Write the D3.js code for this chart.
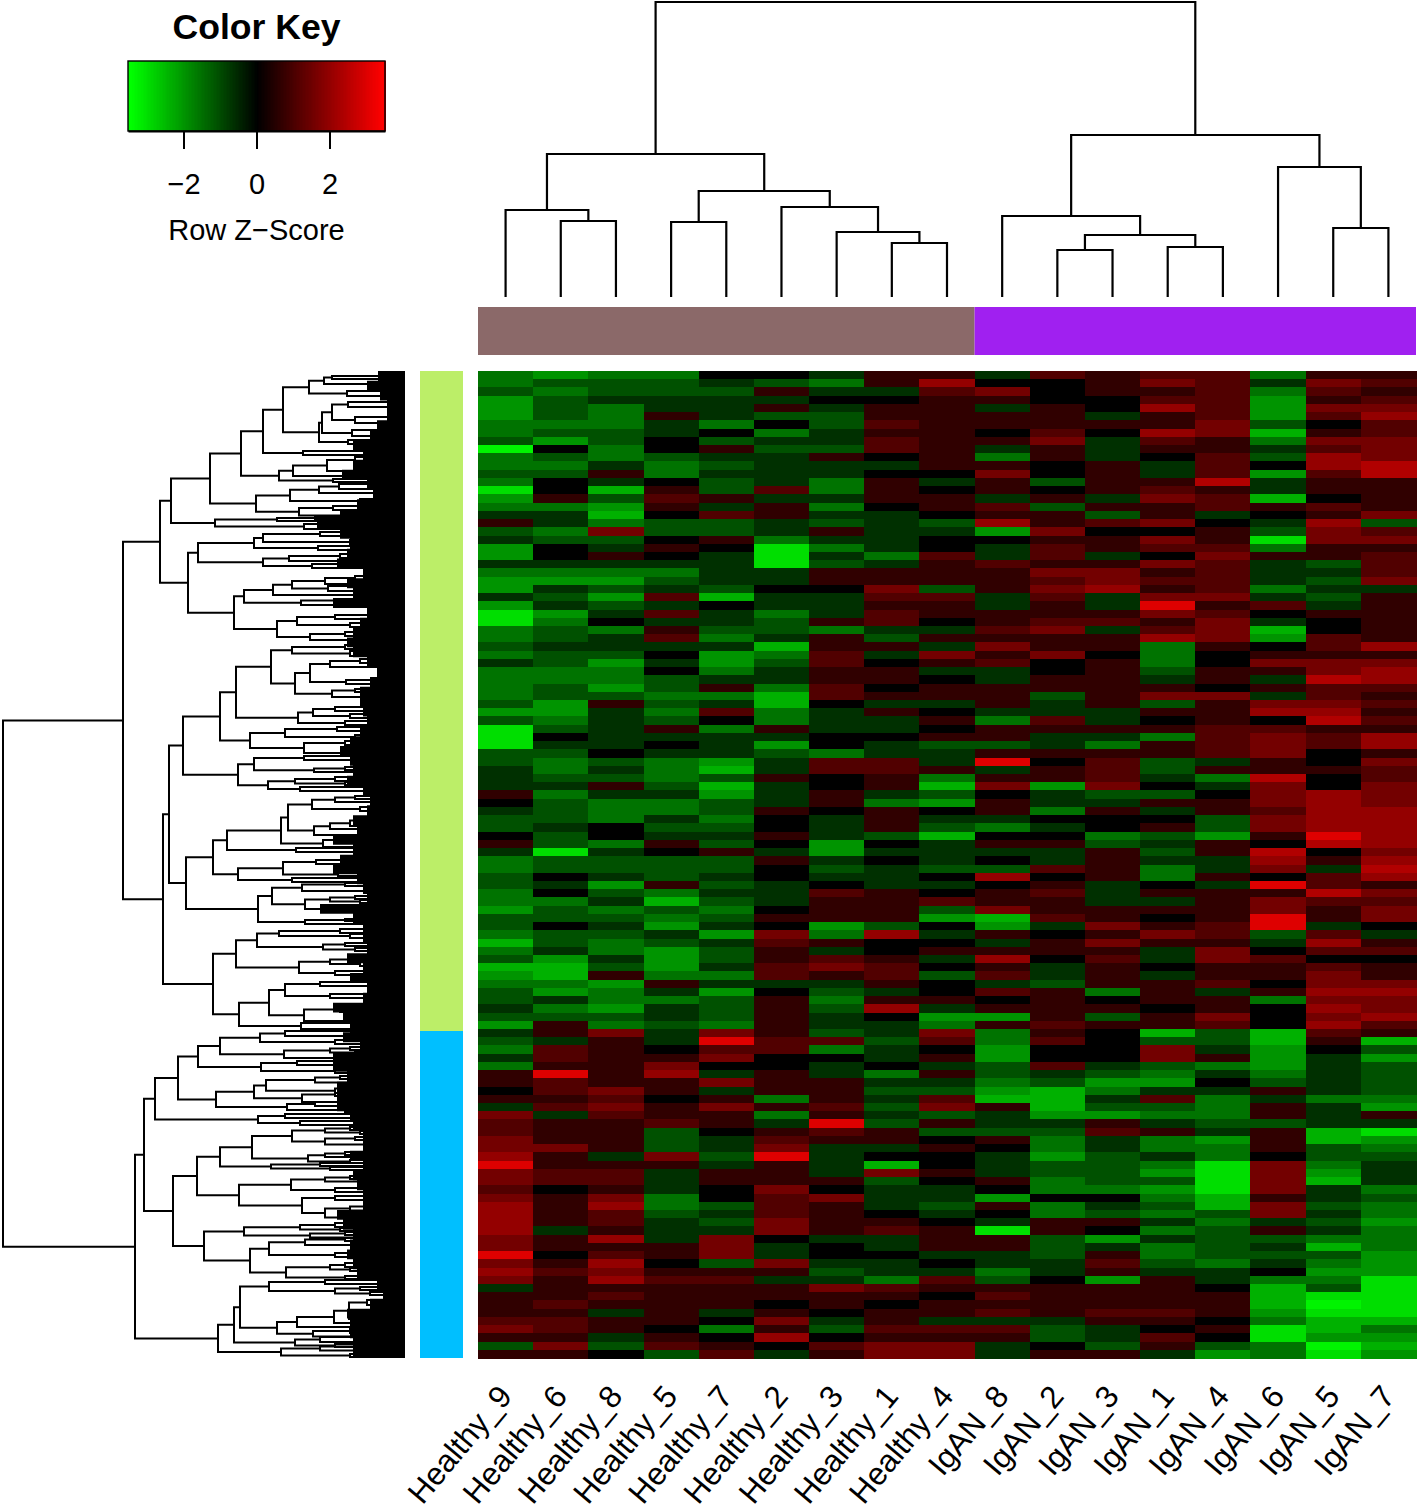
<!DOCTYPE html>
<html><head><meta charset="utf-8">
<script src="https://cdn.jsdelivr.net/npm/d3@7"></script>
<style>html,body{margin:0;padding:0;background:#fff}svg{display:block}text{font-family:"Liberation Sans",Arial,sans-serif;fill:#000}</style>
</head><body><svg id="c" width="1418" height="1510"></svg>
<script>
const samples = ["Healthy_9","Healthy_6","Healthy_8","Healthy_5","Healthy_7","Healthy_2","Healthy_3","Healthy_1","Healthy_4","IgAN_8","IgAN_2","IgAN_3","IgAN_1","IgAN_4","IgAN_6","IgAN_5","IgAN_7"];
const sampleGroups = [9, 8];                 // Healthy, IgAN
const rowGroups = [660, 327];                // rows in each cluster
const keyTicks = [-2, 0, 2];

// z-score read for each shade class used in the columns below (class 0..7, sign = green/red side)
const shadeZ = [0, 0.65, 1.1, 1.55, 2.0, 2.4, 3.0, 3.3];

// Shade classes, top to bottom
const healthy9 = [-3,-3,-2,-4,-4,-4,-3,-3,-2,-7,-3,-3,-2,-3,-6,-4,-3,-1,1,-2,-1,-4,-4,-1,-3,-4,-4,-1,-4,-6,-6,-3,-3,-2,-3,-1,-3,-3,-3,-3,
 -2,-4,-2,-6,-6,-6,-2,-2,-1,-1,-1,1,0,-1,-2,-2,0,1,-1,-3,-3,-2,-2,-3,-3,-4,-2,-2,-3,-5,-3,-2,-5,-4,-3,-2,-2,-1,-2,-4,
 -1,-2,-3,-1,-3,1,1,0,1,-1,3,2,2,3,3,4,6,3,3,2,3,4,4,4,4,3,3,6,3,4,3,-1,1,1,1,2,3,1,-2,1];
const healthy6 = [-4,-2,-3,-2,-2,-2,-3,-2,-4,0,-2,-3,-2,0,0,1,-3,-1,-1,-3,-2,0,0,-1,-3,-4,-1,-2,-1,-4,-3,-2,-2,-1,-2,-2,-3,-3,-2,-2,
 -4,-4,-3,-2,0,-1,-2,-3,-3,-2,-1,-3,-2,-2,-2,-1,-2,-2,-6,-2,-2,0,-1,0,-3,-2,-2,0,-2,-2,-1,-4,-5,-5,-3,-4,-1,-3,-2,1,
 1,-1,2,2,1,6,2,2,1,2,-1,1,1,1,3,1,1,2,2,0,1,1,1,1,-1,1,1,0,1,2,1,1,1,2,1,2,2,1,3,1];
const healthy8 = [-3,-2,-2,-1,-3,-3,-3,-2,-2,-3,-3,-1,1,-1,-5,-2,-4,-5,-3,3,-2,-1,1,-1,-3,-4,-2,-4,-2,-1,0,-3,-1,-1,-2,-4,-3,-3,-4,-2,
 1,-1,-1,-1,-1,-1,0,-2,-1,-2,1,-1,-3,-3,-3,0,0,-3,-1,-2,-2,-1,-4,-2,-1,-3,-2,-1,-2,-3,-3,-1,-2,1,-4,-3,-3,-4,-2,-3,
 3,1,1,1,1,1,1,3,2,3,2,1,1,1,1,-1,1,2,2,1,3,4,2,2,1,4,1,2,4,3,4,1,2,1,-1,1,1,-1,-2,0];
const healthy5 = [-3,-2,-2,-1,-1,1,-1,-1,0,0,-2,-3,-3,0,1,2,1,0,-2,-2,0,1,0,-1,-3,-2,-1,2,-1,2,-1,1,2,-1,0,-1,0,-2,-2,-3,
 -2,-3,-2,1,-1,0,-1,-3,-3,-3,-2,-1,-3,-3,-1,-2,-1,1,0,-2,-2,-2,1,-3,-5,-2,-3,-4,-1,-2,-4,-4,-4,-3,1,-1,-3,-1,-1,-2,
 -1,-1,0,1,3,4,1,1,0,1,1,2,-2,-2,-2,3,1,-1,-1,-1,-3,-3,-2,-1,-1,-1,1,1,0,1,2,1,1,1,1,1,0,1,2,-2];
const healthy7 = [0,-1,-2,-1,-1,-1,-3,0,-2,1,-1,-2,-1,-2,-2,1,-1,2,-2,-2,1,0,-1,-1,-1,-1,-2,-5,0,-1,-1,-2,-3,-1,-4,-4,-3,-1,1,-3,
 -1,2,0,-3,-1,-1,-1,-4,-5,-2,-5,-4,-2,-2,-3,-2,-1,-2,1,-2,-2,-1,-2,-1,-2,-3,-2,-1,-4,-1,-2,-2,-1,-3,-1,-4,-2,-2,-2,-3,
 3,6,2,3,0,-1,3,-1,1,3,1,1,0,-1,-1,-2,-1,1,1,0,0,-2,-1,-2,-1,3,3,3,-2,1,2,1,1,1,-1,0,-3,0,1,2];
const healthy2 = [0,-2,1,-1,1,-2,0,-3,-1,-2,-1,-1,-1,-1,2,-1,1,1,-1,-1,-3,-6,-6,-6,-1,-1,0,-1,-1,-3,-2,-2,-1,-5,-3,-2,-1,-1,-3,-5,
 -5,-3,-3,1,-1,-4,-2,-1,-1,1,-1,-1,-1,1,0,0,1,0,-1,1,0,0,-1,-1,-1,0,1,0,3,2,1,1,2,2,-1,0,1,1,1,1,
 1,2,2,0,0,1,1,1,-3,1,-3,-1,1,2,3,6,1,1,1,3,2,2,2,3,3,0,-1,-1,3,1,-1,1,1,0,1,3,1,4,0,-1];
const healthy3 = [-1,-3,-1,0,-1,-2,-2,-1,-1,-2,1,-1,-1,-3,-3,-1,-3,-1,-2,1,-1,-3,-1,-2,1,1,0,-1,-1,-1,1,-3,1,1,2,2,1,1,2,2,
 0,-1,-1,-1,0,0,-3,2,2,0,0,1,1,0,-1,-1,-1,-4,-4,-1,-2,-1,0,2,1,1,1,-4,-3,1,-1,2,3,1,-1,-2,-3,-2,-1,-1,
 -2,2,-3,0,-1,-1,1,1,1,2,1,6,2,1,-1,-1,-1,-1,1,0,3,1,1,1,1,-1,0,0,-1,-2,-1,3,1,1,0,-1,-2,0,2,1];
const healthy1 = [1,1,-1,0,1,1,2,1,2,2,0,-1,0,1,1,1,0,-1,-1,-1,-1,-1,-3,-1,1,1,3,2,1,2,2,-1,-2,1,-1,0,1,1,0,1,
 -1,1,-1,-1,0,-1,-1,2,2,1,1,-1,-3,1,1,1,-2,0,-1,0,-1,-1,-1,1,1,1,1,-2,4,0,0,1,2,2,1,-1,1,4,0,-1,
 -1,-2,-1,-1,0,-3,-1,-2,-1,-2,-1,-2,1,1,-1,0,-5,3,-2,-1,-1,-1,0,1,2,-1,-1,0,-1,-1,-3,2,1,0,1,1,2,1,3,3];
const healthy4 = [1,4,2,1,1,1,1,1,1,1,1,1,0,-1,0,1,1,0,-2,-1,0,0,2,1,1,1,-2,2,1,1,0,-1,1,-1,3,1,-1,0,1,1,
 -1,0,1,0,1,-2,-1,-1,1,-3,-5,-2,-4,0,-1,-2,-5,-1,-1,-1,-2,0,-1,0,2,-2,-4,0,-1,0,1,-1,0,-2,0,0,1,-1,-4,-3,
 3,2,0,1,-1,1,-1,-2,2,3,-2,1,-2,0,1,0,0,1,0,-1,-1,-2,-1,0,1,1,1,-1,0,-1,2,1,0,1,1,-1,2,1,3,3];
const igan8 = [-1,0,3,1,-1,1,1,0,1,-1,-3,1,3,1,1,-1,2,1,4,-4,0,-1,-1,2,1,1,1,-1,-1,1,1,2,1,3,1,2,-1,-1,1,1,
 1,-1,-3,1,1,-2,1,6,-1,1,3,0,1,1,-1,-3,0,1,-1,0,-2,4,0,1,1,3,-5,-4,1,-1,1,4,1,2,-1,2,0,1,-4,1,
 -3,-3,-4,-4,-2,-2,-3,-4,-5,1,-1,-1,-2,1,0,-1,-1,-1,1,0,-4,1,0,-1,-6,1,1,-1,-1,-3,-2,1,2,1,2,-1,2,1,-1,-1];
const igan2 = [2,0,0,0,1,1,1,2,3,1,1,0,0,-2,0,1,-2,1,1,3,1,2,2,1,3,2,3,2,1,1,2,3,1,1,3,0,0,1,1,-2,
 -1,-1,2,1,-1,-1,1,0,1,1,-4,-1,-1,-3,0,-1,0,1,-1,-1,2,0,1,2,1,1,2,-1,0,1,1,0,-1,-1,-2,1,1,1,1,2,
 1,2,0,0,2,-1,-2,-5,-5,-5,-4,-1,-2,-3,-3,-4,-2,-2,-3,-3,0,-3,-3,1,1,-2,-2,-2,-1,-1,0,1,1,1,1,-1,-2,-2,0,1];
const igan3 = [1,1,1,0,0,-1,1,0,-1,-1,-1,1,1,1,1,-1,1,-2,2,0,1,1,-1,1,3,3,4,-1,-1,1,2,-1,1,1,0,1,1,1,1,1,
 1,-1,-1,1,-1,-3,1,2,2,2,3,-2,-1,1,0,0,-3,-2,1,1,1,1,-1,-1,-1,1,1,3,1,3,1,2,1,1,1,-3,0,1,-2,1,
 0,0,0,0,-1,-2,-4,-3,-1,-2,-4,1,2,-1,-1,-2,-2,-2,-2,-3,0,-1,-2,1,0,-4,-1,1,2,1,-4,1,1,1,2,1,-1,-1,-2,1];
const igan1 = [2,3,1,2,4,1,1,4,2,1,0,-1,-1,1,2,3,1,1,3,0,3,2,0,3,1,2,1,3,6,3,1,2,4,-3,-3,-3,-2,-1,1,3,
 -2,1,0,1,-3,1,1,-2,-2,-1,0,-2,1,-1,0,1,-2,-1,-2,-1,-3,-3,0,1,-1,1,0,1,3,1,-1,-1,0,-1,1,1,1,0,1,1,
 -5,-2,3,3,-2,-3,-4,-1,2,-2,-3,-1,1,-3,-3,-1,-3,-4,-2,-4,-3,-2,-3,-1,-3,-1,-3,-3,-2,-1,1,1,1,1,2,1,0,2,1,-1];
const igan4 = [2,2,2,2,2,2,3,3,1,1,2,2,2,5,1,2,2,-1,0,1,1,2,3,2,2,2,2,3,1,2,3,3,3,1,0,0,1,1,0,3,
 1,1,1,2,2,2,2,-1,1,-3,-1,0,1,1,-2,-2,-4,1,1,-1,-1,1,-1,1,1,1,1,2,2,1,3,3,1,1,2,-1,1,1,3,2,
 -2,-2,-1,1,-3,-1,0,-1,-3,-3,-3,-2,-1,-4,-3,-3,-6,-6,-6,-6,-5,-5,-2,-3,-2,-2,-2,-2,-3,-1,-1,0,1,1,1,0,1,0,-2,-4];
const igan6 = [-3,-1,-3,-4,-4,-4,-2,-5,-3,-1,-2,0,-4,-1,-1,-5,1,0,-1,-2,-6,-3,1,-1,-1,-1,-3,-1,2,0,-1,-5,-4,0,1,3,1,-1,1,-1,
 3,4,0,2,3,3,3,1,1,5,3,3,3,2,3,3,1,0,5,4,3,0,6,1,3,3,6,6,-2,-1,0,2,1,1,0,1,-3,0,0,0,
 -5,-5,-4,-4,-4,-3,-2,1,-1,1,1,-2,1,1,1,0,3,3,3,3,1,3,3,-1,1,-2,-1,-2,-1,0,-3,-5,-5,-5,-4,-3,-6,-6,-3,-3];
const igan5 = [1,3,2,1,3,2,0,1,3,2,4,4,2,1,1,0,2,1,4,3,3,1,1,-2,-1,-2,-1,-2,-1,1,0,0,2,2,1,3,3,5,2,2,
 3,4,5,1,2,2,0,0,1,0,0,4,4,4,4,4,6,5,0,1,-1,2,2,5,2,1,1,-1,2,4,2,0,2,3,3,4,3,4,3,4,
 2,1,0,-1,-1,-1,-1,-1,-3,-1,-1,-1,-5,-5,-2,-2,-3,-4,-5,-1,-1,-2,-1,-2,-1,-3,-5,-2,-3,-4,-3,-2,-6,-7,-6,-5,-5,-4,-7,-6];
const igan7 = [1,2,1,2,3,4,2,2,3,3,3,5,5,1,1,1,1,3,-2,2,3,1,2,2,2,3,-1,1,1,1,1,1,1,4,1,3,4,4,2,1,
 2,1,2,1,4,4,1,3,2,2,3,3,3,4,4,4,4,4,3,4,5,4,1,3,2,3,3,0,-1,1,2,0,1,1,3,4,3,3,4,2,
 1,-5,-2,-4,-2,-2,-2,-2,-3,-4,1,-1,-6,-4,-3,-2,-1,-1,-1,-3,-2,-3,-3,-4,-3,-3,-3,-4,-4,-4,-6,-6,-6,-6,-6,-5,-3,-4,-5,-4];
const heatColumns = [healthy9,healthy6,healthy8,healthy5,healthy7,healthy2,healthy3,healthy1,healthy4,igan8,igan2,igan3,igan1,igan4,igan6,igan5,igan7];

// Column dendrogram: [height, left, right], leaves are column indexes
const colTree = [295,
  [143,[87,0,[76,1,2]],[106,[75,3,4],[90,5,[65,6,[54,7,8]]]]],
  [162,[81,9,[62,[47,10,11],[50,12,13]]],[130,14,[69,15,16]]]];

// Row dendrogram: [height, upper, lower], leaves are row positions
const rowBranchA1 = [234,
 [195,[164,[142,[122,[96,[81,[73,5,8],13],[58,20,25]],[86,[83,[73,[57,31,36],[50,46,52]],[53,59,65]],[57,69,73]]],[102,80,84]],
   [126,[112,[78,[50,86,92],100],[57,103,107]],[72,108,111]]],
  [149,[115,[86,[66,113,118],122],[45,128,132]],[106,[72,135,139],[60,142,147]]]],
 [190,[128,[90,146,148],[75,149,151]],[101,153,158]]];
const rowBranchA2 = [217,
 [207,[151,[142,[85,161,165],[55,169,173]],[87,175,179]],[142,[116,[65,183,187],190],[93,193,197]]],
 [171,[161,[132,[113,[80,[50,205,209],213],[77,215,220]],[40,222,226]],[104,[70,228,231],234]],
  [128,[108,[70,244,248],[55,252,256]],[95,[60,261,265],[50,267,271]]]]];
const rowBranchB1 = [222,
 [185,[169,[134,[113,[60,274,278],[55,280,285]],[110,[95,[75,[45,288,292],296],[59,309,313]],[73,[50,318,321],326]]],
   [107,[92,[70,336,340],[55,343,347]],[60,350,354]]],
  [155,[120,[68,356,360],[50,364,368]],[101,[60,370,374],[50,380,384]]]],
 [167,[151,[101,385,389],[91,[60,396,399],[50,400,402]]],[137,[110,[70,406,410],[60,411,414]],[105,416,420]]]];
const rowBranchB2 = [219,
 [192,[178,[124,[117,[93,[70,[50,425,428],431],[45,436,440]],[91,[75,[55,[35,448,451],455],458],[45,462,466]]],[82,[60,467,471],[45,474,478]]],[109,477,481]],
  [167,[122,[89,[60,487,491],[40,491,495]],[67,[40,500,504],505]],[113,507,511]]],
 [147,[133,[103,[60,512,515],520],[100,[75,[50,525,528],[45,529,532]],[60,536,540]]],[100,[60,548,550],553]]];
const rowBranchB3 = [192,
 [169,[148,[126,[65,558,562],[55,563,567]],[82,[60,572,575],[50,577,580]]],[106,[75,[50,587,590],[45,591,595]],[70,600,604]]],
 [166,[136,[120,[85,611,615],[75,623,627]],[101,[65,636,641],[50,648,652]]],[104,652,658]]];
const rowBranchC1 = [250,
 [227,[207,[185,[145,[120,660,665],[70,669,673]],[121,[75,[55,676,679],[50,680,683]],[40,685,689]]],[144,[108,690,694],[70,698,702]]],
  [189,[151,[139,[90,[65,705,708],[45,710,713]],[70,[45,716,719],722]],[103,[70,722,725],[60,729,733]]],[118,[90,731,735],[60,737,741]]]],
 [147,[120,743,747],[105,750,754]]];
const rowBranchC2 = [232,
 [208,[185,[153,[113,[80,[55,756,759],[45,760,763]],[80,[50,766,769],[30,[20,771,773],775]]],[97,[80,[60,781,784],[30,785,787]],[55,789,792]]],[134,[85,792,795],[75,796,799]]],
  [166,[114,[80,[55,805,808],[40,809,812]],[70,817,821]],[103,[70,825,829],[80,[55,[35,834,837],[30,838,841]],[45,845,848]]]]],
 [201,[161,[105,[70,852,856],[65,857,860]],[95,[60,861,864],[50,865,868]]],
  [155,[136,[100,[60,867,870],[50,872,876]],[70,882,886]],[119,[75,[60,892,896],[55,897,900]],[60,905,908]]]]];
const rowBranchC3 = [187,
 [171,[165,[136,[80,909,913],[70,[45,916,919],[35,921,924]]],[128,[108,[71,[56,[38,929,934],[32,[10,945,947],[8,949,951]]],[45,950,954]],[50,954,958]],[92,[55,958,962],[40,964,967]]]],[110,[85,966,971],[70,973,976]]],
 [124,[85,[50,974,977],[45,978,981]],[55,983,986]]];
const rowTree = [402,
 [282,[245,rowBranchA1,rowBranchA2],[242,[236,rowBranchB1,rowBranchB2],rowBranchB3]],
 [270,[261,rowBranchC1,rowBranchC2],rowBranchC3]];

// Height of the solid leaf mass on the right of the row dendrogram, top to bottom
const leafMass = [32,27,38,25,18,18,28,35,52,42,52,63,38,32,48,65,88,65,55,58,68,42,58,52,72,38,45,52,58,52,38,28,35,
 45,45,42,38,45,55,65,55,52,58,42,35,38,52,48,72,52,65,72,48,42,38,85,52,42,42,38,58,42,55,38,42,72,62,
 55,62,45,72,72,58,68,68,68,55,52,42,42,55,42,52,48,42,42,68,62,52,55,58,52,48,28,22,35,58,55,55,52];

const svg = d3.select("#c");
const W = {heatL:478, heatR:1416, heatT:371, heatB:1358};

// colour
const color = d3.scaleLinear().domain([-3.45,0,3.45]).range(["#00ff00","#000000","#ff0000"]).clamp(true);
const shade = d => Math.sign(d) * shadeZ[Math.abs(d)];

// heatmap
const xCol = d3.scaleBand().domain(d3.range(samples.length)).range([W.heatL,W.heatR]);
const nRows = healthy9.length;
const yRow = d3.scaleBand().domain(d3.range(nRows)).range([W.heatT,W.heatB]);
const heat = svg.append("g").attr("shape-rendering","crispEdges");
heatColumns.forEach((col,c)=>{
  heat.append("g").selectAll("rect").data(col).join("rect")
    .attr("x",xCol(c)).attr("width",xCol.bandwidth()+0.6)
    .attr("y",(d,i)=>yRow(i)).attr("height",yRow.bandwidth()+0.6)
    .attr("fill",d=>color(shade(d)));
});

// side bars
const colBarColors = ["#8B6969","#A020F0"];
let cum=0;
sampleGroups.forEach((n,i)=>{
  svg.append("rect").attr("x",xCol(cum)).attr("width",xCol.step()*n).attr("y",307).attr("height",48).attr("fill",colBarColors[i]);
  cum+=n;
});
const yRowPos = d3.scaleLinear().domain([0,987]).range([W.heatT,W.heatB]);
const rowBarColors = ["#BCEE68","#00BFFF"];
cum=0;
rowGroups.forEach((n,i)=>{
  svg.append("rect").attr("x",420).attr("width",43).attr("y",yRowPos(cum)).attr("height",yRowPos(n)-yRowPos(0)).attr("fill",rowBarColors[i]);
  cum+=n;
});

// dendrograms
function walk(node,pos,hgt,p){
  if(!Array.isArray(node)) return {c:pos(node),v:hgt(0)};
  const a=walk(node[1],pos,hgt,p), b=walk(node[2],pos,hgt,p);
  const v=hgt(node[0]);
  p.push([a,b,v]);
  return {c:(a.c+b.c)/2,v};
}
// column tree
const hTop = d3.scaleLinear().domain([0,295]).range([297,2]);
const colSegs=[]; walk(colTree,i=>xCol(i)+xCol.bandwidth()/2,hTop,colSegs);
svg.append("path").attr("fill","none").attr("stroke","#000").attr("stroke-width",2.2)
  .attr("d",colSegs.map(([a,b,v])=>`M${a.c},${a.v}V${v}H${b.c}V${b.v}`).join(""));
// row tree
const hLeft = d3.scaleLinear().domain([0,402]).range([405,3]);
const rowSegs=[]; walk(rowTree,yRowPos,hLeft,rowSegs);
svg.append("path").attr("fill","none").attr("stroke","#000").attr("stroke-width",2)
  .attr("d",rowSegs.map(([a,b,v])=>`M${a.v},${a.c}H${v}V${b.c}H${b.v}`).join(""));
// leaf mass
const yMass = d3.scaleLinear().domain([0,leafMass.length]).range([W.heatT,W.heatB]);
svg.append("path").attr("fill","#000")
  .attr("d",d3.area().curve(d3.curveStepAfter).y((d,i)=>yMass(i)).x0(hLeft(0)).x1(d=>hLeft(d))([...leafMass,leafMass[leafMass.length-1]]));

// column labels
svg.append("g").selectAll("text").data(samples).join("text")
  .attr("transform",(d,i)=>`translate(${xCol(i)+xCol.bandwidth()/2+8},1397) rotate(-50)`)
  .attr("text-anchor","end").attr("font-size",31.5).text(d=>d);

// colour key
const xKey = d3.scaleLinear().domain([-3.52,3.52]).range([128,385]);
const keySteps = d3.range(-3.52,3.52,0.04);
svg.append("g").attr("shape-rendering","crispEdges").selectAll("rect").data(keySteps).join("rect")
  .attr("x",d=>xKey(d)).attr("width",2).attr("y",61).attr("height",70).attr("fill",d=>color(d));
svg.append("rect").attr("x",128).attr("y",61).attr("width",257).attr("height",70).attr("fill","none").attr("stroke","#000").attr("stroke-width",1.4);
const keyAxis = d3.axisBottom(xKey).tickValues(keyTicks).tickSizeInner(18).tickSizeOuter(0).tickPadding(24).tickFormat(d=>String(d).replace("-","\u2212"));
const ka = svg.append("g").attr("transform","translate(0,131)").call(keyAxis);
ka.select(".domain").attr("stroke-width",2.2);
ka.selectAll(".tick line").attr("stroke-width",2);
ka.selectAll("text").attr("font-size",29).attr("font-family",'"Liberation Sans",Arial,sans-serif');
svg.append("text").attr("x",256.5).attr("y",240).attr("text-anchor","middle").attr("font-size",29).text("Row Z\u2212Score");
svg.append("text").attr("x",256.5).attr("y",39).attr("text-anchor","middle").attr("font-size",35.6).attr("font-weight","bold").text("Color Key");
</script></body></html>
